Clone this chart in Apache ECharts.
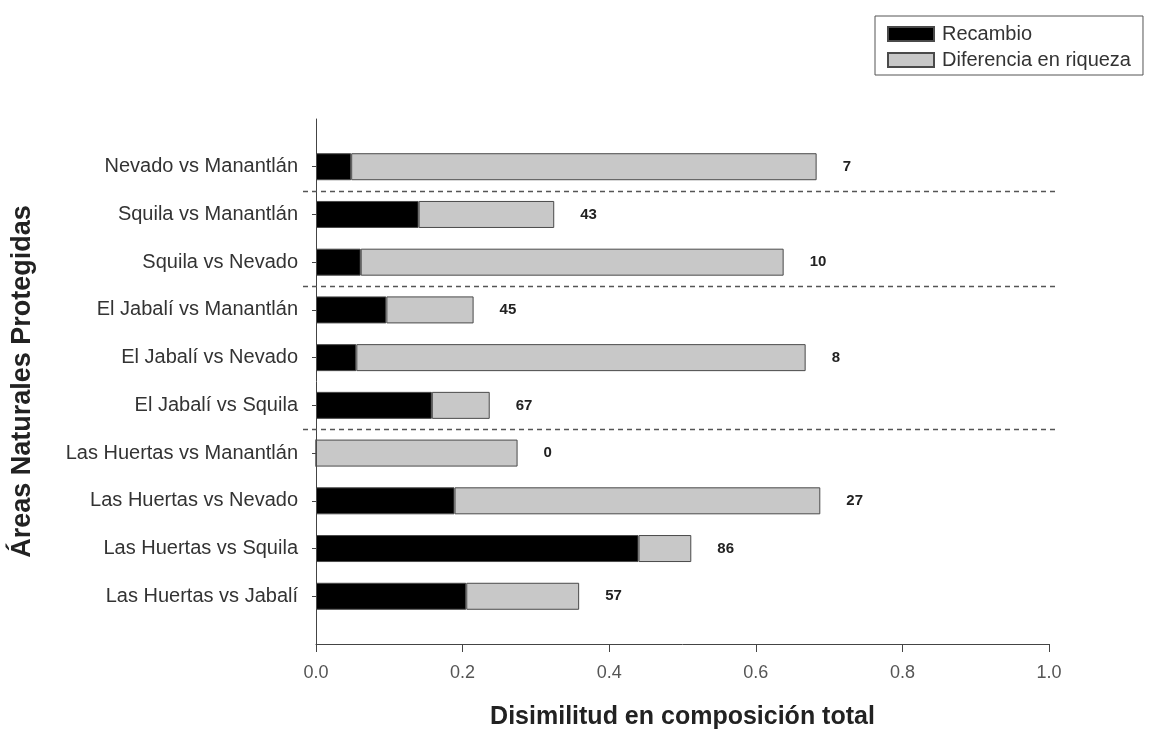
<!DOCTYPE html>
<html>
<head>
<meta charset="utf-8">
<script src="https://cdn.jsdelivr.net/npm/echarts@6/dist/echarts.min.js"></script>
<style>
  html, body { margin: 0; padding: 0; background: #fff; }
  #chart { width: 1159px; height: 738px; }
</style>
</head>
<body>
<div id="chart"></div>
<script>
// Pairs of protected natural areas, top to bottom
const pairs = [
  'Nevado vs Manantlán',
  'Squila vs Manantlán',
  'Squila vs Nevado',
  'El Jabalí vs Manantlán',
  'El Jabalí vs Nevado',
  'El Jabalí vs Squila',
  'Las Huertas vs Manantlán',
  'Las Huertas vs Nevado',
  'Las Huertas vs Squila',
  'Las Huertas vs Jabalí'
];
// Turnover component of total dissimilarity
const recambio = [0.048, 0.140, 0.061, 0.096, 0.055, 0.158, 0.000, 0.189, 0.440, 0.205];
// Richness-difference component
const diferencia = [0.635, 0.185, 0.577, 0.119, 0.613, 0.079, 0.275, 0.499, 0.072, 0.154];
// Share of turnover in total dissimilarity (%)
const recambioPct = [7, 43, 10, 45, 8, 67, 0, 27, 86, 57];
// Index of the first pair of each new group (dashed separators above them)
const groupStarts = [1, 3, 6];
const xTicks = [0, 0.2, 0.4, 0.6, 0.8, 1.0];

// Empty slots at both ends give the category axis some padding
const yCats = [''].concat(pairs, ['']);
const pad = arr => ['-'].concat(arr, ['-']);

const chart = echarts.init(document.getElementById('chart'), null, { renderer: 'canvas' });

const barBorder = { borderColor: '#4a4a4a', borderWidth: 1 };

const option = {
  backgroundColor: '#ffffff',
  animation: false,
  textStyle: { fontFamily: 'Liberation Sans, Arial, sans-serif' },
  legend: {
    orient: 'vertical',
    left: 875,
    top: 16,
    padding: [8, 12, 5, 12],
    itemGap: 6,
    itemWidth: 46,
    itemHeight: 14,
    icon: 'rect',
    backgroundColor: '#ffffff',
    borderColor: '#555555',
    borderWidth: 1,
    borderRadius: 0,
    textStyle: { fontSize: 20, color: '#333333', padding: [0, 0, 0, 3] },
    data: ['Recambio', 'Diferencia en riqueza']
  },
  grid: { left: 316, right: 110, top: 119, bottom: 94, containLabel: false },
  xAxis: {
    type: 'value',
    min: xTicks[0],
    max: xTicks[xTicks.length - 1],
    interval: 0.2,
    name: 'Disimilitud en composición total',
    nameLocation: 'middle',
    nameGap: 61,
    nameTextStyle: { fontSize: 25, fontWeight: 'bold', color: '#222222' },
    axisLine: { show: true, lineStyle: { color: '#444444', width: 1 } },
    axisTick: { show: true, inside: false, length: 8, lineStyle: { color: '#444444' } },
    axisLabel: { fontSize: 18, color: '#555555', margin: 20, formatter: v => v.toFixed(1) },
    splitLine: { show: false }
  },
  yAxis: {
    type: 'category',
    inverse: true,
    boundaryGap: false,
    data: yCats,
    name: 'Áreas Naturales Protegidas',
    nameLocation: 'middle',
    nameGap: 280,
    nameRotate: 90,
    nameTextStyle: { fontSize: 27, fontWeight: 'bold', color: '#222222' },
    axisLine: { show: true, onZero: false, lineStyle: { color: '#444444', width: 1 } },
    axisTick: {
      show: true, length: 4,
      interval: (idx, val) => val !== '',
      lineStyle: { color: '#444444' }
    },
    axisLabel: {
      fontSize: 20, color: '#333333', margin: 18,
      interval: (idx, val) => val !== ''
    },
    splitLine: { show: false }
  },
  series: [
    {
      name: 'Recambio',
      type: 'bar',
      stack: 'total',
      barWidth: 27,
      itemStyle: Object.assign({ color: '#000000' }, barBorder),
      data: pad(recambio)
    },
    {
      name: 'Diferencia en riqueza',
      type: 'bar',
      stack: 'total',
      barWidth: 27,
      itemStyle: Object.assign({ color: '#c8c8c8' }, barBorder),
      label: {
        show: true,
        position: 'right',
        distance: 26,
        fontSize: 15,
        fontWeight: 'bold',
        color: '#222222',
        formatter: p => {
          const i = p.dataIndex - 1;
          return i >= 0 && i < recambioPct.length ? String(recambioPct[i]) : '';
        }
      },
      data: pad(diferencia)
    }
  ]
};

chart.setOption(option);

// Dashed separators between groups of pairs
function drawSeparators() {
  const x0 = chart.convertToPixel({ xAxisIndex: 0 }, xTicks[0]) - 13;
  const x1 = chart.convertToPixel({ xAxisIndex: 0 }, xTicks[xTicks.length - 1]) + 8;
  const lines = groupStarts.map(i => {
    const yA = chart.convertToPixel({ yAxisIndex: 0 }, pairs[i - 1]);
    const yB = chart.convertToPixel({ yAxisIndex: 0 }, pairs[i]);
    const y = Math.round((yA + yB) / 2) + 0.5;
    return {
      type: 'line',
      shape: { x1: x0, y1: y, x2: x1, y2: y },
      style: { stroke: '#555555', lineWidth: 1.5, lineDash: [5, 4] },
      silent: true,
      z: 5
    };
  });
  chart.setOption({ graphic: lines });
}
drawSeparators();
</script>
</body>
</html>
